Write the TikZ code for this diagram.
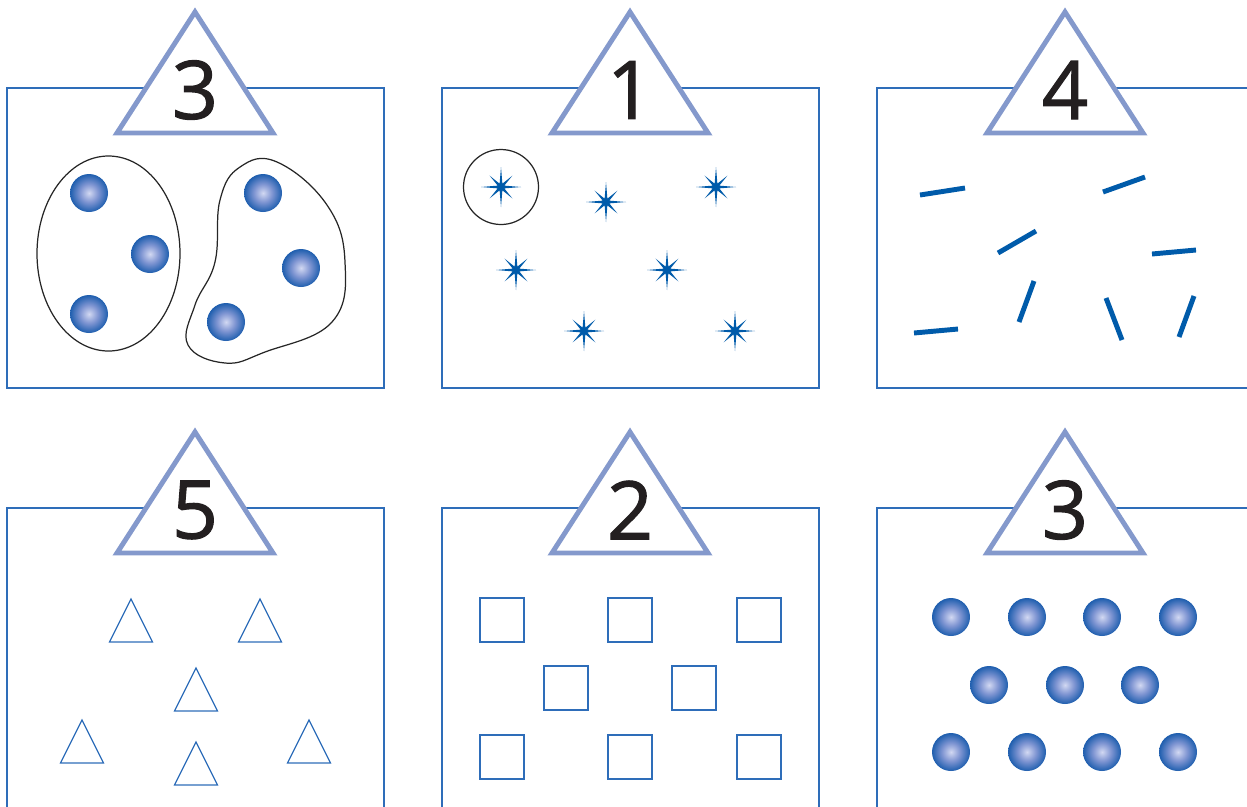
\documentclass[tikz,border=0pt]{standalone}
\usepackage{fontspec}
\setmainfont{Open Sans}
\newfontfamily\digitfont{Open Sans}[FakeBold=1.3]
\usepackage{tikz}
\definecolor{framec}{HTML}{2E6DB9}
\definecolor{badgec}{HTML}{8499CC}
\definecolor{numc}{HTML}{231F20}
\definecolor{markc}{HTML}{005BAA}
\definecolor{dotin}{HTML}{D2D8F2}
\definecolor{dotmid}{HTML}{7F95D2}
\definecolor{dotout}{HTML}{1E5EAE}
\pgfdeclareradialshading{dotshade}{\pgfpoint{0bp}{0bp}}{color(0bp)=(dotin); color(12bp)=(dotmid); color(25bp)=(dotout); color(50bp)=(dotout)}

\begin{document}
\begin{tikzpicture}[x=0.02cm, y=-0.02cm,
    panel/.style={draw=framec, line width=0.85pt},
    badge/.style={draw=badgec, line width=2.8pt, fill=white, line join=miter},
    num/.style={font=\digitfont\fontsize{46}{46}\selectfont, text=numc, inner sep=0pt},
    loop/.style={draw=black!85, line width=0.7pt},
    dot/.style={shading=dotshade},
    stick/.style={draw=markc, line width=2.8pt},
    outline/.style={draw=framec, line width=0.7pt},
    sparkle/.style={fill=markc}
]
\useasboundingbox (0,0) rectangle (1247,806);
\clip (0,0) rectangle (1247,806);

% panels
\foreach \px/\py in {7/88, 442/88, 877/88, 7/508, 442/508, 877/508}
  \draw[panel] (\px,\py) rectangle ++(377,300);

% badges with numbers
\foreach \cx/\ty/\n/\nm in {195/0/3/numA, 630/0/1/numB, 1065/0/4/numC,
                            195/420/5/numD, 630/420/2/numE, 1065/420/3/numF} {
  \draw[badge] (\cx,12+\ty) -- (\cx+78,133+\ty) -- (\cx-78,133+\ty) -- cycle;
  \node[num] (\nm) at (\cx,90+\ty) {\n};
}

% panel 1: two groups
\draw[loop] (108.5,253.5) ellipse (71.5 and 97.5);
\draw[loop] plot[smooth cycle, tension=0.7] coordinates {(277,162) (327,205) (345,262) (332,322) (265,352) (225,363) (188,345) (195,305) (215,262) (220,200) (240,167)};
\foreach \bx/\by in {89/193, 150/254, 89/314, 263/193, 301/268, 226/322}
  \shade[dot] (\bx,\by) circle (19);

% panel 2: sparkles
\draw[loop] (501,187) circle (37.5);
\foreach \sx/\sy in {501/187, 606/202, 716/187, 516/270, 667/270, 584/331, 735/331}
  \fill[sparkle, shift={(\sx,\sy)}] (90:20) -- (67.5:3.6) -- (45:16) -- (22.5:3.6)
    -- (0:20) -- (-22.5:3.6) -- (-45:16) -- (-67.5:3.6) -- (-90:20) -- (-112.5:3.6)
    -- (-135:16) -- (-157.5:3.6) -- (180:20) -- (157.5:3.6) -- (135:16) -- (112.5:3.6) -- cycle;

% panel 3: sticks
\foreach \ax/\ay/\bx/\by in {920/195/965/188, 1103/192/1145/177, 998/253/1036/231,
    1152/254/1196/250, 914/333/958/329, 1019/322/1034/281, 1106/298/1122/340, 1179/337/1194/296}
  \draw[stick] (\ax,\ay) -- (\bx,\by);

% panel 4: triangles
\foreach \tx/\ty in {131/599, 260/599, 196/668, 82/720, 309/720, 196/742}
  \draw[outline] (\tx,\ty) -- (\tx+21.5,\ty+43) -- (\tx-21.5,\ty+43) -- cycle;

% panel 5: squares
\foreach \qx/\qy in {480/598, 608/598, 737/598, 544/666, 672/666, 480/735, 608/735, 737/735}
  \draw[outline] (\qx,\qy) rectangle ++(44,44);

% panel 6: dots
\foreach \bx/\by in {951/617, 1027/617, 1102/617, 1178/617, 989/685, 1065/685, 1140/685,
                     951/752, 1027/752, 1102/752, 1178/752}
  \shade[dot] (\bx,\by) circle (19);
\end{tikzpicture}
\end{document}
